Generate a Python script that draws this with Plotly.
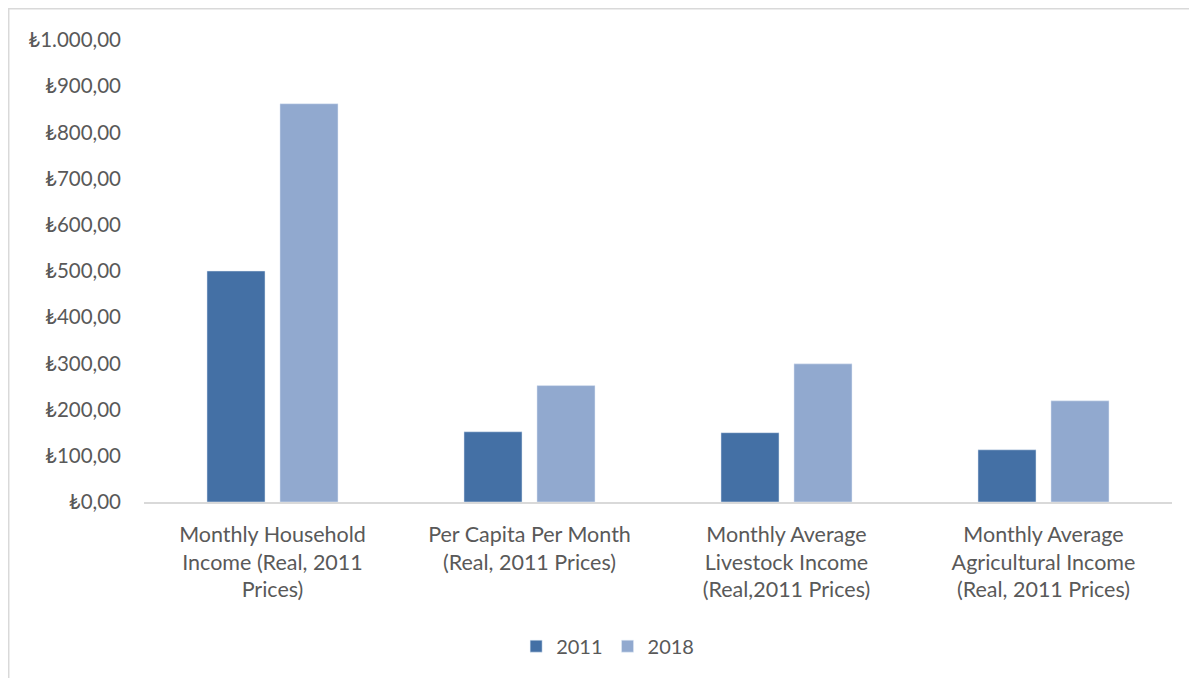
import plotly.graph_objects as go

categories = [
    "Monthly Household<br>Income (Real, 2011<br>Prices)",
    "Per Capita Per Month<br>(Real, 2011 Prices)",
    "Monthly Average<br>Livestock Income<br>(Real,2011 Prices)",
    "Monthly Average<br>Agricultural Income<br>(Real, 2011 Prices)",
]
values_2011 = [500, 152, 150, 113]
values_2018 = [862, 252, 299, 219]

tick_vals = [0, 100, 200, 300, 400, 500, 600, 700, 800, 900, 1000]
tick_text = ["₺0,00", "₺100,00", "₺200,00", "₺300,00", "₺400,00", "₺500,00",
             "₺600,00", "₺700,00", "₺800,00", "₺900,00", "₺1.000,00"]

FONT = "Lato, Carlito, 'Open Sans', sans-serif"
TEXT_COLOR = "#595959"

fig = go.Figure()
fig.add_trace(go.Bar(name="2011", x=categories, y=values_2011, marker_color="#4470A5"))
fig.add_trace(go.Bar(name="2018", x=categories, y=values_2018, marker_color="#91A9CF"))

# page body has an 8px margin, so the plot area is shifted up/left by 8px
fig.update_layout(
    width=1197, height=678,
    margin=dict(l=136, r=33, t=32, b=183.5),
    paper_bgcolor="white", plot_bgcolor="white",
    barmode="group", bargap=0.432, bargroupgap=0.205,
    font=dict(family=FONT, size=20, color=TEXT_COLOR),
    showlegend=True,
    legend=dict(orientation="h", x=0.451, xanchor="center", y=-0.312, yanchor="middle",
                font=dict(size=20, color=TEXT_COLOR), traceorder="normal",
                itemwidth=30),
    shapes=[dict(type="rect", xref="paper", yref="paper",
                 x0=-0.1316, x1=1.2, y0=1.0676, y1=-0.6,
                 line=dict(color="#d9d9d9", width=1.5), layer="below")],
)
fig.update_xaxes(showline=True, linecolor="#d9d9d9", linewidth=1.5,
                 showgrid=False, ticks="", ticklabelstandoff=12,
                 tickfont=dict(size=21.5, color=TEXT_COLOR))
fig.update_yaxes(range=[0, 1000], tickvals=tick_vals, ticktext=tick_text,
                 showgrid=False, zeroline=False, showline=False,
                 ticklabelstandoff=22, tickfont=dict(size=20.5, color=TEXT_COLOR))

fig.write_html("out.html")
